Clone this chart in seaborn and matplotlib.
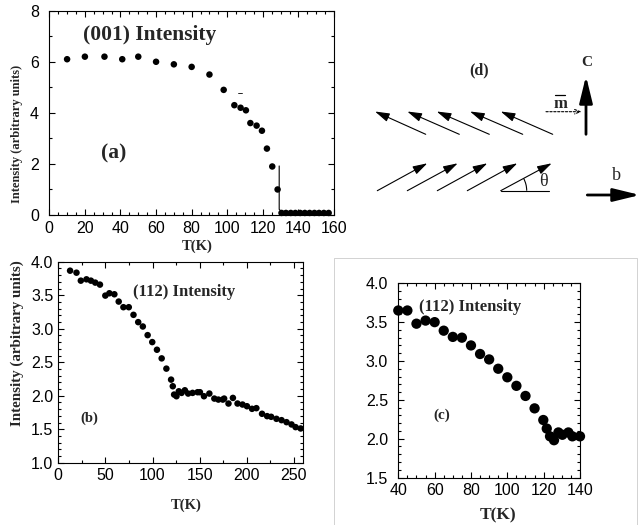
import numpy as np
import pandas as pd
import matplotlib
matplotlib.use("Agg")
import matplotlib.pyplot as plt
import seaborn as sns
from matplotlib.ticker import MultipleLocator
from matplotlib.patches import Arc

# ---------------- data ----------------
# panel (a): (001) intensity
a_T = [10, 20, 31, 41, 50, 60, 70, 80, 90, 98, 104, 107.5, 110.5, 113, 116.5,
       119.5, 122.3, 125.3, 128.3,
       130.5, 133, 135.7, 138.3, 141, 143.6, 146.3, 149, 151.6, 154.3, 157]
a_I = [6.1, 6.2, 6.2, 6.1, 6.2, 6.0, 5.9, 5.8, 5.5, 4.9, 4.3, 4.2, 4.1, 3.6, 3.5,
       3.3, 2.6, 1.9, 1.0,
       0.08, 0.08, 0.08, 0.08, 0.08, 0.08, 0.08, 0.08, 0.08, 0.08, 0.08]
a_guide_T = [129.2, 129.2, 130.6]
a_guide_I = [1.92, 0.22, 0.12]
a_mark_T = [106, 108.5]
a_mark_I = [4.77, 4.77]

# panel (b): (112) intensity, full range
b_T = [12.5, 19.3, 23.9, 29.9, 34.6, 39.2, 44.2, 49.9, 54.2, 59.5, 64.1, 69.1,
       74.8, 79.8, 84.8, 89.7, 94.8, 99.7, 104.7, 109.7, 114.7, 119.7, 121.5,
       122.9, 125.4, 127.9, 130.8, 134.3, 137.8, 142.5, 147.8, 150.3, 154.6,
       160.3, 165.6, 169.9, 174.6, 176, 180.6, 185.3, 190.2, 195.5, 200.2,
       205.6, 210.2, 216.2, 221.6, 225.9, 231.5, 236.9, 242.2, 247.5, 251.8,
       257.2]
b_I = [3.866, 3.836, 3.717, 3.737, 3.717, 3.688, 3.658, 3.494, 3.529, 3.514,
       3.405, 3.321, 3.321, 3.207, 3.098, 3.033, 2.904, 2.800, 2.686, 2.557,
       2.404, 2.240, 2.141, 2.017, 1.992, 2.066, 2.042, 2.081, 2.032, 2.042,
       2.052, 2.052, 1.992, 2.032, 1.957, 1.942, 1.942, 1.957, 1.883, 1.967,
       1.883, 1.868, 1.843, 1.804, 1.814, 1.730, 1.695, 1.685, 1.655, 1.635,
       1.605, 1.571, 1.531, 1.511]

# panel (c): (112) intensity, low-T zoom
c_T = [40, 45, 50, 55, 60, 65, 70, 75, 80, 85, 90, 95, 100, 105, 110, 115,
       119.8, 121.7, 123.5, 125.7, 128.1, 130.3, 133.6, 135.8, 140]
c_I = [3.65, 3.65, 3.48, 3.52, 3.50, 3.39, 3.31, 3.30, 3.20, 3.09, 3.02, 2.90,
       2.79, 2.68, 2.55, 2.39, 2.24, 2.13, 2.03, 1.98, 2.08, 2.05, 2.08, 2.03,
       2.03]

# panel (d): spin schematic (drawing units = pixels of the figure)
up_head_x = [375, 407.3, 436.7, 470, 500.7]
up_tail_x = [425.7, 459.3, 489.3, 522.7, 552.7]
up_head_y, up_tail_y = 111.5, 134.3
lo_tail_x = [377.3, 407.3, 437.3, 467.3, 500.7]
lo_head_x = [427.3, 457.7, 487.3, 517.3, 551.7]
lo_tail_y, lo_head_y = 190.7, 163.3

# ---------------- style ----------------
sns.set_theme(style="ticks")
plt.rcParams['font.family'] = ['Liberation Sans', 'DejaVu Sans']
SERIF = ['Liberation Serif', 'DejaVu Serif']

W, H = 640, 525
fig = plt.figure(figsize=(W / 100, H / 100), dpi=100)


def add_ax(l, r, t, b):
    return fig.add_axes([l / W, 1 - b / H, (r - l) / W, (b - t) / H])


def style(ax, xmaj, xmin, ymaj, ymin, ypad):
    ax.xaxis.set_major_locator(MultipleLocator(xmaj))
    ax.xaxis.set_minor_locator(MultipleLocator(xmin))
    ax.yaxis.set_major_locator(MultipleLocator(ymaj))
    ax.yaxis.set_minor_locator(MultipleLocator(ymin))
    ax.tick_params(which='both', direction='in', top=True, right=True,
                   width=0.8, colors='black')
    ax.tick_params(which='major', length=4.5, labelsize=11.5)
    ax.tick_params(which='minor', length=2.2)
    ax.tick_params(axis='x', pad=4)
    ax.tick_params(axis='y', pad=ypad)
    for s in ax.spines.values():
        s.set_visible(True)
        s.set_color('black')
        s.set_linewidth(0.8)
    ax.set_xlabel('')
    ax.set_ylabel('')
    ax.set_facecolor('white')


# ---------- (a) ----------
axa = add_ax(49.3, 334, 10.7, 215)
sns.scatterplot(x=a_T, y=a_I, ax=axa, color='black', s=22, edgecolor='none',
                clip_on=False, zorder=3)
sns.lineplot(x=a_guide_T, y=a_guide_I, ax=axa, color='black', lw=0.8,
             sort=False, estimator=None)
sns.lineplot(x=a_mark_T, y=a_mark_I, ax=axa, color='black', lw=0.6,
             sort=False, estimator=None)
axa.set_xlim(0, 160)
axa.set_ylim(0, 8)
style(axa, 20, 5, 2, 1, 7.5)
fig.text(149.5 / W, 1 - 35 / H, '(001) Intensity', ha='center', va='center',
         fontsize=15.5, fontweight='bold', family=SERIF)
fig.text(114 / W, 1 - 153 / H, '(a)', ha='center', va='center', fontsize=15.5,
         fontweight='bold', family=SERIF)
fig.text(17 / W, 1 - 134 / H, 'Intensity (arbitrary units)', rotation=90,
         ha='center', va='center', fontsize=9, fontweight='bold', family=SERIF)
fig.text(197.5 / W, 1 - 246 / H, 'T(K)', ha='center', va='center',
         fontsize=10.5, fontweight='bold', family=SERIF)

# ---------- (b) ----------
axb = add_ax(58.3, 303.3, 261.7, 462.7)
sns.scatterplot(x=b_T, y=b_I, ax=axb, color='black', s=22, edgecolor='none',
                clip_on=False, zorder=3)
axb.set_xlim(0, 260)
axb.set_ylim(1.0, 4.0)
style(axb, 50, 25, 0.5, 0.1, 3.5)
fig.text(184.2 / W, 1 - 291.7 / H, '(112) Intensity', ha='center', va='center',
         fontsize=12, fontweight='bold', family=SERIF)
fig.text(89.7 / W, 1 - 418.3 / H, '(b)', ha='center', va='center',
         fontsize=10.5, fontweight='bold', family=SERIF)
fig.text(17 / W, 1 - 343 / H, 'Intensity (arbitrary units)', rotation=90,
         ha='center', va='center', fontsize=10.8, fontweight='bold', family=SERIF)
fig.text(186 / W, 1 - 505 / H, 'T(K)', ha='center', va='center',
         fontsize=10.5, fontweight='bold', family=SERIF)

# ---------- (c) ----------
axc = add_ax(398.3, 580, 283.3, 477.5)
sns.scatterplot(x=c_T, y=c_I, ax=axc, color='black', s=55, edgecolor='none',
                clip_on=False, zorder=3)
axc.set_xlim(40, 140)
axc.set_ylim(1.5, 4.0)
style(axc, 20, 5, 0.5, 0.1, 7.5)
fig.text(470 / W, 1 - 306.7 / H, '(112) Intensity', ha='center', va='center',
         fontsize=12, fontweight='bold', family=SERIF)
fig.text(442 / W, 1 - 415 / H, '(c)', ha='center', va='center',
         fontsize=11, fontweight='bold', family=SERIF)
fig.text(497.5 / W, 1 - 515 / H, 'T(K)', ha='center', va='center',
         fontsize=12.5, fontweight='bold', family=SERIF)

# ---------- (d) schematic + frame of (c) ----------
axd = fig.add_axes([0, 0, 1, 1])
axd.set_xlim(0, W)
axd.set_ylim(H, 0)
axd.axis('off')
axd.patch.set_visible(False)

# light frame around panel (c)
axd.plot([334, 334, 637, 637], [525, 258, 258, 525], color='#d2d2d2', lw=0.7)

thin = dict(arrowstyle='-|>,head_length=0.8,head_width=0.24', color='black',
            lw=0.8, mutation_scale=11, shrinkA=0, shrinkB=0)
for hx, tx in zip(up_head_x, up_tail_x):
    axd.annotate('', xy=(hx, up_head_y), xytext=(tx, up_tail_y), arrowprops=thin)
for tx, hx in zip(lo_tail_x, lo_head_x):
    axd.annotate('', xy=(hx, lo_head_y), xytext=(tx, lo_tail_y), arrowprops=thin)

# theta construction
axd.plot([lo_tail_x[-1], 549.3], [lo_tail_y, lo_tail_y], color='black', lw=0.8)
axd.add_patch(Arc((lo_tail_x[-1], lo_tail_y), 52, 52, theta1=-28, theta2=0,
                  color='black', lw=0.8))
axd.text(543.3, 181.7, 'θ', ha='center', va='center', fontsize=13, family=SERIF)

# m-bar dashed arrow
axd.annotate('', xy=(581.7, 111.7), xytext=(546, 111.7),
             arrowprops=dict(arrowstyle='->,head_length=0.5,head_width=0.2',
                             color='black', lw=0.8, ls=(0, (2, 1.5)),
                             mutation_scale=8, shrinkA=0, shrinkB=0))
axd.text(560, 104, 'm', ha='center', va='center', fontsize=12,
         fontweight='bold', family=SERIF)
axd.plot([555, 565], [94.5, 94.5], color='black', lw=0.9)

# crystal axes
thick = dict(arrowstyle='-|>,head_length=0.9,head_width=0.22', color='black',
             lw=2.0, mutation_scale=18, shrinkA=0, shrinkB=0)
axd.annotate('', xy=(586, 76), xytext=(586, 134.3), arrowprops=thick)
axd.annotate('', xy=(640, 195), xytext=(587.3, 195), arrowprops=thick)
axd.text(587, 62, 'C', ha='center', va='center', fontsize=11,
         fontweight='bold', family=SERIF)
axd.text(616, 175, 'b', ha='center', va='center', fontsize=13, family=SERIF)
axd.text(478.8, 70, '(d)', ha='center', va='center', fontsize=11.5,
         fontweight='bold', family=SERIF)

fig.savefig('out.png', dpi=100, facecolor='white')
